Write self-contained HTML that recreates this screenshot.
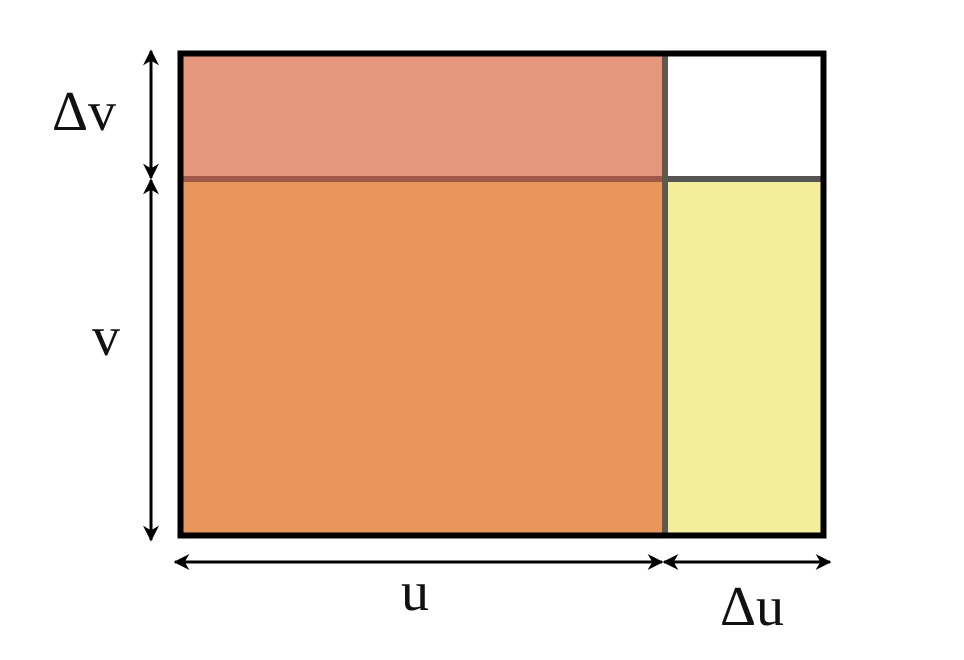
<!DOCTYPE html>
<html><head><meta charset="utf-8"><style>
html,body{margin:0;padding:0;background:#fff;width:964px;height:660px;overflow:hidden}
svg{display:block}
text{font-family:"Liberation Serif","Times New Roman",serif;fill:#111}
</style></head><body>
<svg width="964" height="660" viewBox="0 0 964 660">
<defs>
<marker id="ah" viewBox="0 0 10 10" refX="9" refY="5" markerWidth="16" markerHeight="16" markerUnits="userSpaceOnUse" orient="auto-start-reverse">
<path d="M0,0 L10,5 L0,10 L3,5 Z" fill="#000"/></marker>
</defs>
<rect x="180" y="53" width="485" height="126" fill="#E8977F"/>
<rect x="180" y="179" width="485" height="356" fill="#E8965A"/>
<rect x="665" y="179" width="158" height="356" fill="#F4EE9B"/>
<rect x="665" y="53" width="158" height="126" fill="#fff"/>
<line x1="180" y1="179" x2="665" y2="179" stroke="#A05848" stroke-width="6"/>
<line x1="665" y1="179" x2="823" y2="179" stroke="#555" stroke-width="6"/>
<line x1="665" y1="53" x2="665" y2="535" stroke="#5F5A50" stroke-width="6"/>
<rect x="180.5" y="53.5" width="643" height="482" fill="none" stroke="#000" stroke-width="6"/>
<line x1="151" y1="51" x2="151" y2="178" stroke="#000" stroke-width="3" marker-start="url(#ah)" marker-end="url(#ah)"/>
<line x1="151" y1="180" x2="151" y2="540" stroke="#000" stroke-width="3" marker-start="url(#ah)" marker-end="url(#ah)"/>
<line x1="175" y1="562" x2="662" y2="562" stroke="#000" stroke-width="3" marker-start="url(#ah)" marker-end="url(#ah)"/>
<line x1="664" y1="562" x2="830" y2="562" stroke="#000" stroke-width="3" marker-start="url(#ah)" marker-end="url(#ah)"/>
<text x="84" y="130" font-size="56" text-anchor="middle">Δv</text>
<text x="106" y="355" font-size="56" text-anchor="middle">v</text>
<text x="415" y="610" font-size="56" text-anchor="middle">u</text>
<text x="752" y="625" font-size="56" text-anchor="middle">Δu</text>
</svg>
</body></html>
